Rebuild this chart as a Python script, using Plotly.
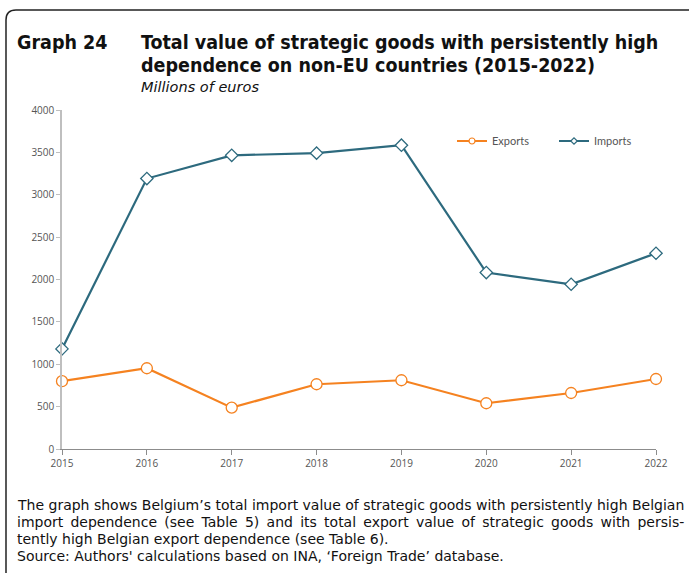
import plotly.graph_objects as go

years = [2015, 2016, 2017, 2018, 2019, 2020, 2021, 2022]
exports = [800, 953, 488, 764, 811, 540, 661, 826]
imports = [1181, 3191, 3465, 3491, 3585, 2082, 1944, 2310]

tick_vals = [0, 500, 1000, 1500, 2000, 2500, 3000, 3500, 4000]

title_label = "Graph 24"
title_lines = [
    "Total value of strategic goods with persistently high",
    "dependence on non-EU countries (2015-2022)",
]
subtitle = "Millions of euros"
note_lines = [
    "The graph shows Belgium\u2019s total import value of strategic goods with persistently high Belgian",
    "import dependence (see Table 5) and its total export value of strategic goods with persis-",
    "tently high Belgian export dependence (see Table 6).",
    "Source: Authors' calculations based on INA, \u2018Foreign Trade\u2019 database.",
]
# lines set flush to both margins (the paragraph's last line and the source stay ragged)
justified = [False, True, False, False]

ORANGE = "#f58220"
TEAL = "#2d6a7e"
W, H = 689, 573
L, R, T, B = 62, 33, 110, 124

fig = go.Figure()
series = [
    ("Exports", exports, ORANGE, "circle", 11),
    ("Imports", imports, TEAL, "diamond", 9.5),
]
for name, vals, color, symbol, size in series:
    fig.add_trace(go.Scatter(
        x=years, y=vals, name=name, mode="lines+markers", showlegend=False,
        line=dict(color=color, width=2.2),
        marker=dict(symbol=symbol, size=size, color="white", line=dict(color=color, width=1.3)),
        cliponaxis=False,
    ))
# legend entries with smaller symbols than the plotted markers
for name, vals, color, symbol, size in series:
    fig.add_trace(go.Scatter(
        x=[None], y=[None], name=name, mode="lines+markers", showlegend=True,
        line=dict(color=color, width=2.2),
        marker=dict(symbol=symbol, size=6 if symbol == "circle" else 5, color="white",
                    line=dict(color=color, width=1.2)),
    ))

tick_font = dict(family="Open Sans, sans-serif", size=10, color="#555555")
fig.update_xaxes(
    range=[2015, 2022], tickvals=years, ticktext=[str(y) for y in years],
    showgrid=False, zeroline=False, showline=True, linecolor="#8c8c8c", linewidth=1,
    ticks="outside", ticklen=5, tickcolor="#8c8c8c", tickfont=tick_font,
)
fig.update_yaxes(
    range=[0, 4000], tickvals=tick_vals, showgrid=False, zeroline=False,
    showline=True, linecolor="#bfbfbf", linewidth=1.5,
    ticks="outside", ticklen=4, tickcolor="#bfbfbf", tickfont=tick_font,
)

def px_x(px):
    return (px - L) / (W - L - R)

def px_y(py):
    return (H - B - py) / (H - T - B)

annotations = []
title_font = dict(family="DejaVu Sans Condensed, DejaVu Sans, sans-serif", size=19.5, color="#111111")
annotations.append(dict(
    text="<b>%s</b>" % title_label, x=px_x(15), y=px_y(42), xref="paper", yref="paper",
    xanchor="left", yanchor="middle", showarrow=False, font=title_font,
))
for i, line in enumerate(title_lines):
    annotations.append(dict(
        text="<b>%s</b>" % line, x=px_x(139), y=px_y(42 + 24 * i), xref="paper", yref="paper",
        xanchor="left", yanchor="middle", showarrow=False, font=title_font,
    ))
annotations.append(dict(
    text="<i>%s</i>" % subtitle, x=px_x(139), y=px_y(87), xref="paper", yref="paper",
    xanchor="left", yanchor="middle", showarrow=False,
    font=dict(family="DejaVu Sans, sans-serif", size=14.5, color="#111111"),
))
for i, line in enumerate(note_lines):
    text = line.replace(" ", " \u2009") if justified[i] else line
    annotations.append(dict(
        text=text, x=px_x(15), y=px_y(505 + 17 * i), xref="paper", yref="paper",
        xanchor="left", yanchor="middle", showarrow=False,
        font=dict(family="DejaVu Sans, sans-serif", size=14, color="#111111"),
    ))

fig.update_layout(
    width=W, height=H, autosize=False,
    margin=dict(l=L, r=R, t=T, b=B),
    paper_bgcolor="white", plot_bgcolor="white",
    showlegend=True,
    legend=dict(
        orientation="h", x=px_x(452), y=px_y(141), xanchor="left", yanchor="middle",
        font=dict(family="Lato, sans-serif", size=11, color="#555555"),
        bgcolor="rgba(0,0,0,0)", itemwidth=30, entrywidth=57, tracegroupgap=0,
    ),
    annotations=annotations,
)

# rounded frame along the top and left edges of the figure
def pp(x, y):
    return "%.5f %.5f" % (px_x(x), px_y(y))
frame = "M %s L %s Q %s %s L %s" % (pp(6, H), pp(6, 20), pp(6, 10), pp(16, 10), pp(W, 10))
fig.add_shape(type="path", path=frame, xref="paper", yref="paper",
              line=dict(color="#222222", width=1.5), layer="above")

fig.write_html("out.html")
